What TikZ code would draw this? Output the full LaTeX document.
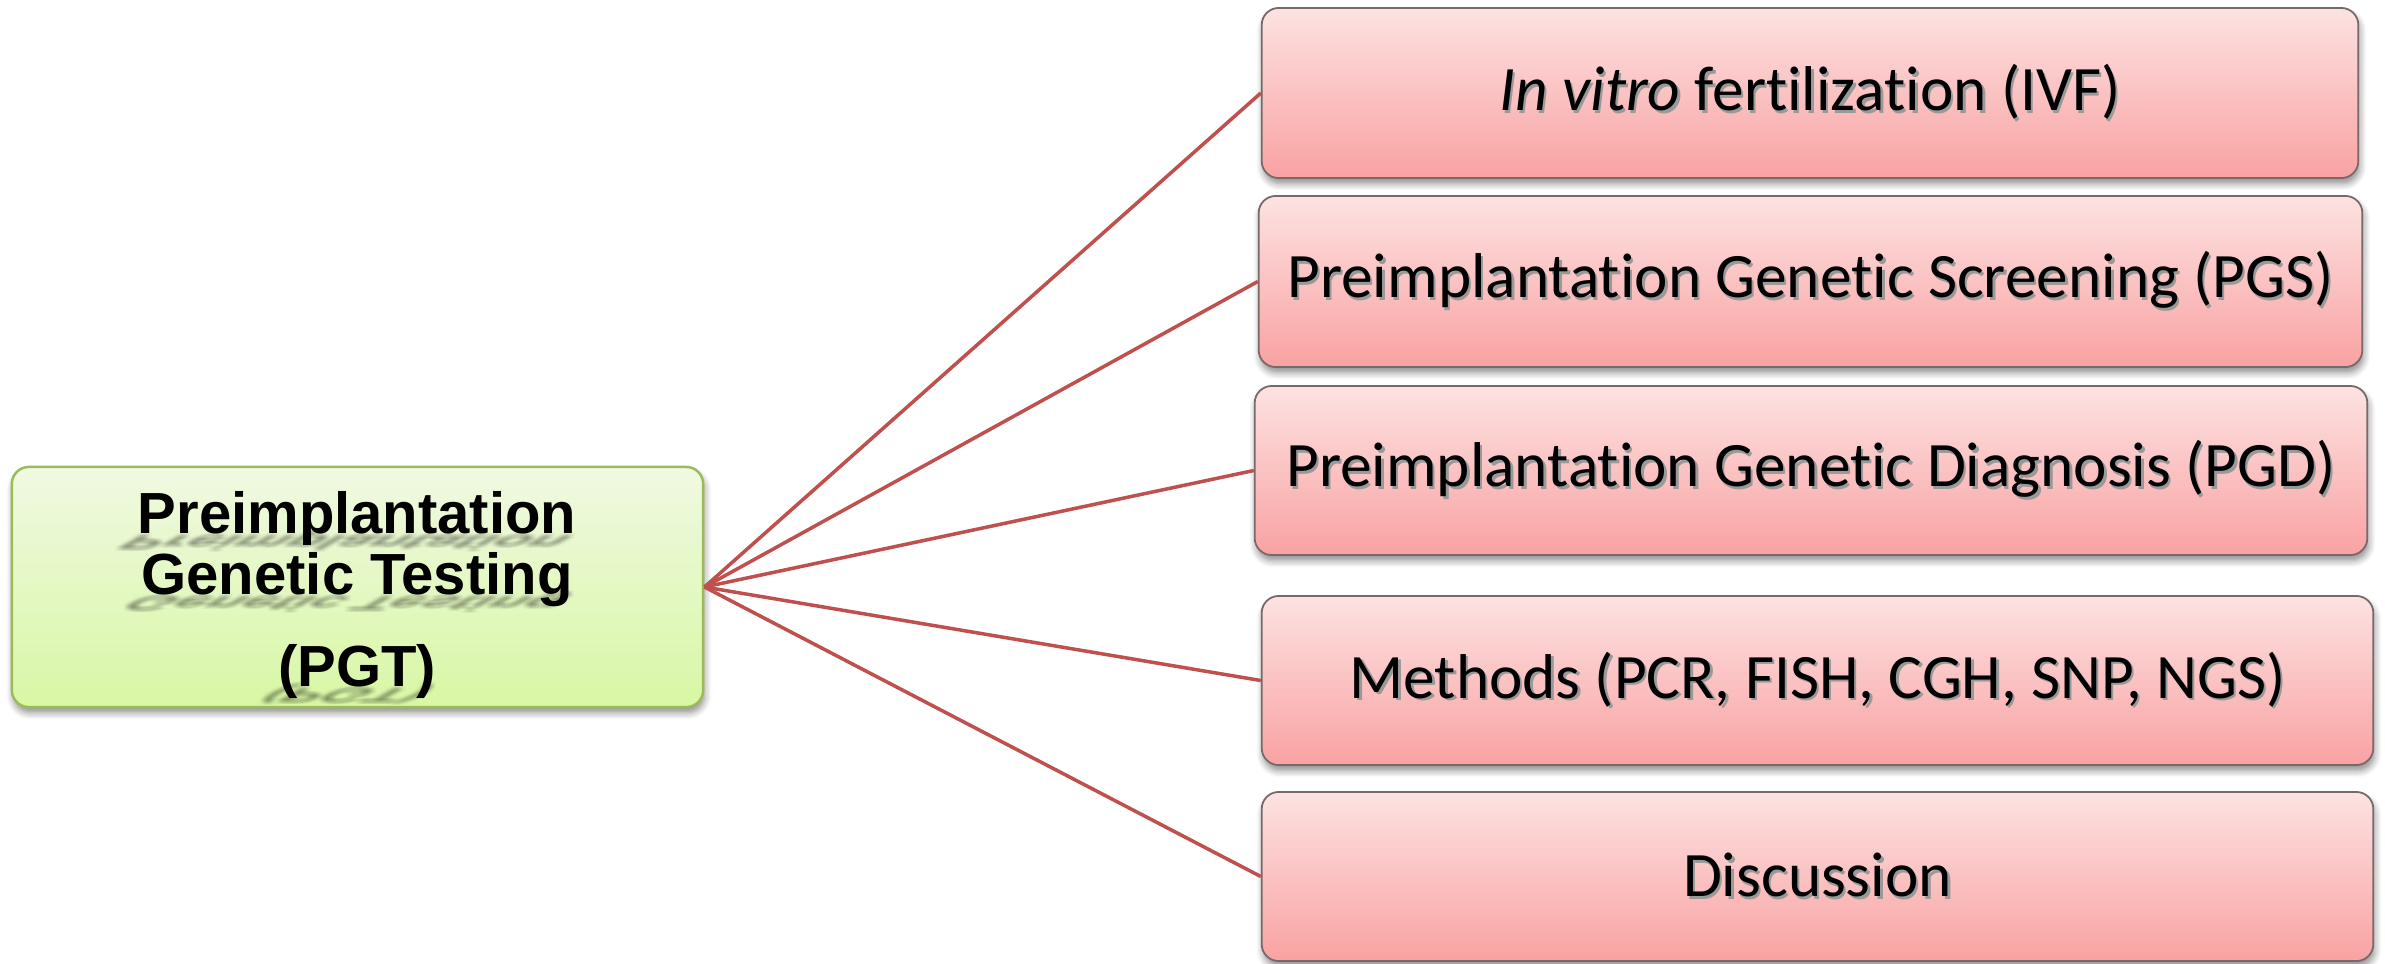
\documentclass[tikz,border=0pt]{standalone}
\usepackage{fontspec}
\setmainfont{Carlito}[Ligatures=NoCommon]
\newfontfamily\arialfont{Liberation Sans}
\usetikzlibrary{shadows.blur}
\definecolor{linkred}{RGB}{192,80,77}
\definecolor{pinktop}{RGB}{253,226,226}
\definecolor{pinkbot}{RGB}{249,162,162}
\definecolor{pinkline}{RGB}{120,105,105}
\definecolor{greentop}{RGB}{240,249,226}
\definecolor{greenbot}{RGB}{216,247,164}
\definecolor{greenline}{RGB}{155,187,89}
\newcommand{\shtxt}[1]{\makebox[0pt][l]{\hspace{0.7pt}\raisebox{-0.7pt}{\color{black!40}#1}}#1}
\tikzset{
  pinkbox/.style={rectangle, rounded corners=0.17cm, draw=pinkline, line width=0.5pt,
    top color=pinktop, bottom color=pinkbot, inner sep=0pt,
    font=\fontsize{18}{21}\selectfont, text=black,
    blur shadow={shadow xshift=0.4pt, shadow yshift=-1.6pt, shadow blur steps=6, shadow opacity=45}},
  greenbox/.style={rectangle, rounded corners=0.17cm, draw=greenline, line width=0.7pt,
    top color=greentop, bottom color=greenbot, inner sep=0pt,
    blur shadow={shadow xshift=0.4pt, shadow yshift=-1.6pt, shadow blur steps=6, shadow opacity=45}},
  pgtfont/.style={font=\arialfont\bfseries\fontsize{16.5}{18}\selectfont},
  pgttext/.style={pgtfont, anchor=base, inner sep=0pt, text=black},
  shadowtext/.style={pgtfont, anchor=base, inner sep=0pt, text=black, text opacity=0.035, transform shape},
  link/.style={draw=linkred, line width=1.0pt}
}
\newcommand{\persshadow}[3]{%
  \foreach \dx/\dy/\k in {-3.5/-2/1,0/-2/2,3.5/-2/3,-3.5/0/4,0/0/5,3.5/0/6,-3.5/2/7,0/2/8,3.5/2/9,-1.7/-1/10,1.7/1/11,1.7/-1/12,-1.7/1/13}{
    \begin{scope}[shift={#2}, shift={(\dx,\dy)}, cm={1,0,-0.6,-0.35,(0,0)}]
      \node[shadowtext] (#1-\k) at (0,0) {#3};
    \end{scope}}}
\begin{document}
\begin{tikzpicture}[x=0.01cm, y=-0.01cm]
\useasboundingbox (0,0) rectangle (2385,963);
\node[greenbox, minimum width=6.91cm, minimum height=2.40cm] (pgt) at (357.5,587) {};
\persshadow{shA}{(357,535)}{Preimplantation}
\persshadow{shB}{(357,596)}{Genetic Testing}
\persshadow{shC}{(357,688)}{(PGT)}
\node[pgttext] (pgtA) at (357,533) {Preimplantation};
\node[pgttext] (pgtB) at (357,594) {Genetic Testing};
\node[pgttext] (pgtC) at (357,686) {(PGT)};
\node[pinkbox, minimum width=10.96cm, minimum height=1.70cm] (ivf) at (1810,93)
  {\shtxt{\textit{In vitro} fertilization (IVF)}};
\node[pinkbox, minimum width=11.03cm, minimum height=1.71cm] (pgs) at (1810.5,281.5)
  {\shtxt{Preimplantation Genetic Screening (PGS)}};
\node[pinkbox, minimum width=11.12cm, minimum height=1.69cm] (pgd) at (1811,470.5)
  {\shtxt{Preimplantation Genetic Diagnosis (PGD)}};
\node[pinkbox, minimum width=11.11cm, minimum height=1.69cm] (meth) at (1817.5,680.5)
  {\shtxt{Methods (PCR, FISH, CGH, SNP, NGS)}};
\node[pinkbox, minimum width=11.11cm, minimum height=1.69cm] (disc) at (1817.5,876.5)
  {\shtxt{Discussion}};
\foreach \t in {ivf,pgs,pgd,meth,disc}
  \draw[link] (pgt.east) -- (\t.west);
\end{tikzpicture}
\end{document}
